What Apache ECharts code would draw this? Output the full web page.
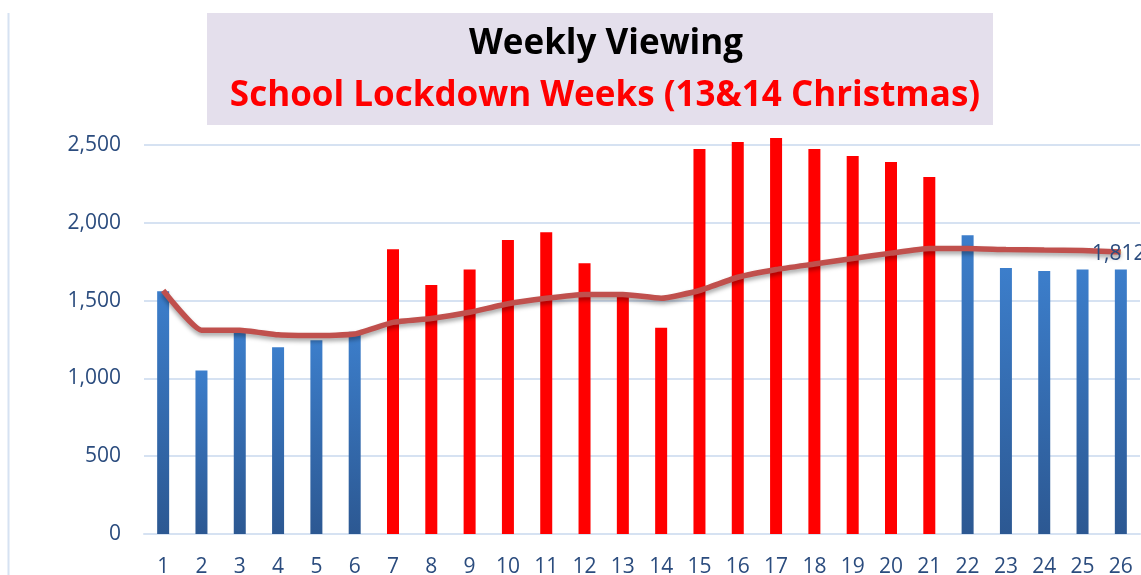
<!DOCTYPE html>
<html>
<head>
<meta charset="utf-8">
<style>
  html, body { margin: 0; padding: 0; background: #fff; }
  #main { width: 1141px; height: 575px; }
</style>
<script src="https://cdn.jsdelivr.net/npm/echarts@6/dist/echarts.min.js"></script>
</head>
<body>
<div id="main"></div>
<script>
// 周数
var weeks = ['1', '2', '3', '4', '5', '6', '7', '8', '9', '10', '11', '12', '13',
  '14', '15', '16', '17', '18', '19', '20', '21', '22', '23', '24', '25', '26'];
// 每周收看
var viewing = [1560, 1050, 1295, 1200, 1245, 1300, 1830, 1600, 1700, 1890, 1940, 1740, 1530,
  1325, 2475, 2520, 2545, 2475, 2430, 2390, 2295, 1920, 1710, 1690, 1700, 1700];
// 趋势线
var trend = [1565, 1310, 1310, 1280, 1275, 1285, 1360, 1385, 1425, 1480, 1515, 1540, 1540,
  1515, 1565, 1650, 1700, 1735, 1770, 1805, 1835, 1835, 1828, 1825, 1822, 1812];
// 封校周（红色）
var lockdownWeeks = ['7', '8', '9', '10', '11', '12', '13', '14', '15', '16', '17', '18', '19', '20', '21'];
var yTicks = [0, 500, 1000, 1500, 2000, 2500];

var titleText = 'Weekly Viewing';
var subText = 'School Lockdown Weeks (13&14 Christmas)';

var labelColor = '#2B4C7E';
var gridColor = '#D6E2F2';
var fontFam = "'Open Sans', sans-serif";

function fmt(v) {
  return Number(v).toLocaleString('en-US');
}

var blueGrad = new echarts.graphic.LinearGradient(0, 0, 0, 1, [
  { offset: 0, color: '#3C7ECB' },
  { offset: 1, color: '#2C5892' }
]);

var chart = echarts.init(document.getElementById('main'));
chart.setOption({
  animation: false,
  title: [{
    text: titleText,
    left: 601,
    top: 22,
    textAlign: 'center',
    textStyle: { color: '#000', fontSize: 35, fontWeight: 'bold', fontFamily: fontFam }
  }, {
    text: subText,
    left: 600,
    top: 74,
    textAlign: 'center',
    textStyle: { color: '#FF0000', fontSize: 35, fontWeight: 'bold', fontFamily: fontFam }
  }],
  graphic: [{
    type: 'rect',
    z: 1,
    shape: { x: 207, y: 13, width: 786, height: 112 },
    style: { fill: '#E4DFEC' }
  }, {
    type: 'line',
    z: 1,
    shape: { x1: 8.5, y1: 13, x2: 8.5, y2: 575 },
    style: { stroke: gridColor, lineWidth: 2 }
  }],
  grid: {
    left: 144,
    right: 1,
    top: 145,
    bottom: 41,
    outerBoundsMode: 'none',
    containLabel: false
  },
  xAxis: {
    type: 'category',
    data: weeks,
    axisTick: { show: false },
    axisLine: { lineStyle: { color: gridColor, width: 2 } },
    axisLabel: {
      color: labelColor,
      fontSize: 21,
      fontFamily: fontFam,
      margin: 23,
      interval: 0
    }
  },
  yAxis: {
    type: 'value',
    min: 0,
    max: 2500,
    interval: 500,
    axisLine: { show: false },
    axisTick: { show: false },
    splitLine: { lineStyle: { color: gridColor, width: 2 } },
    axisLabel: {
      color: labelColor,
      fontSize: 21,
      fontFamily: fontFam,
      margin: 23,
      formatter: function (v) {
        return yTicks.indexOf(v) >= 0 ? fmt(v) : '';
      }
    }
  },
  series: [{
    name: 'Viewing',
    type: 'bar',
    barWidth: 12,
    clip: false,
    data: viewing,
    itemStyle: {
      color: function (p) {
        return lockdownWeeks.indexOf(weeks[p.dataIndex]) >= 0 ? '#FF0000' : blueGrad;
      }
    }
  }, {
    name: 'Trend',
    type: 'line',
    smooth: 0.15,
    symbol: 'none',
    z: 5,
    lineStyle: {
      color: '#C0504D',
      width: 5.5,
      shadowColor: 'rgba(0,0,0,0.35)',
      shadowBlur: 4,
      shadowOffsetY: 3
    },
    data: trend.map(function (v, i) {
      if (i === trend.length - 1) {
        return {
          value: v,
          symbol: 'circle',
          symbolSize: 1,
          label: {
            show: true,
            position: 'inside',
            offset: [-2, 2],
            color: labelColor,
            fontSize: 21,
            fontFamily: fontFam,
            formatter: function (p) { return fmt(p.value); }
          }
        };
      }
      return v;
    })
  }]
});
</script>
</body>
</html>
